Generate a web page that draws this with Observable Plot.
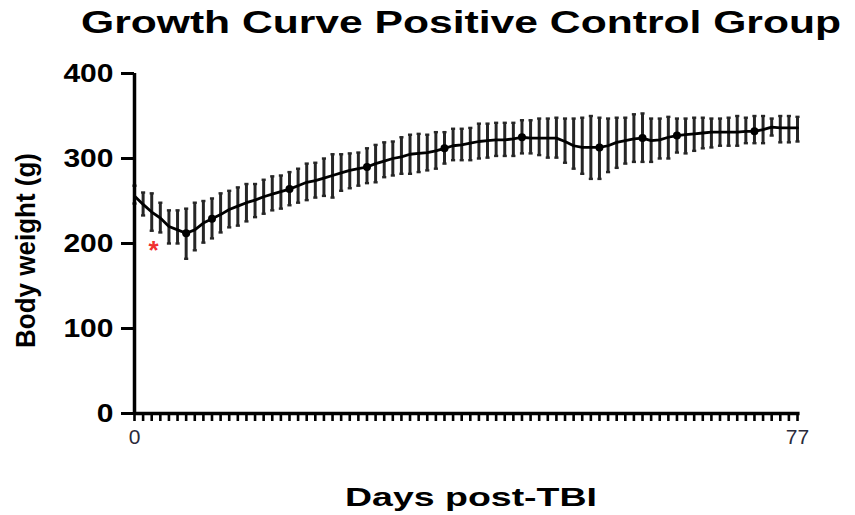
<!DOCTYPE html>
<html><head><meta charset="utf-8">
<script src="https://cdn.jsdelivr.net/npm/d3@7"></script>
<script src="https://cdn.jsdelivr.net/npm/@observablehq/plot@0.6"></script>
<style>body{margin:0;background:#fff;} svg{display:block}</style>
</head><body><div id="chart"></div>
<script>
const titleText = "Growth Curve Positive Control Group";
const xLabelText = "Days post-TBI";
const yLabelText = "Body weight (g)";
const days = [0,1,2,3,4,5,6,7,8,9,10,11,12,13,14,15,16,17,18,19,20,21,22,23,24,25,26,27,28,29,30,31,32,33,34,35,36,37,38,39,40,41,42,43,44,45,46,47,48,49,50,51,52,53,54,55,56,57,58,59,60,61,62,63,64,65,66,67,68,69,70,71,72,73,74,75,76,77];
const means = [256,246,237,230,220,216,212,216,224,229,234,240,244,248,251,255,258,261,264,268,272,274,277,280,283,286,288,290,294,297,300,302,305,306,307,309,312,315,316,318,320,321,322,322,323,325,324,324,324,324,320,315,313,313,313,315,319,321,323,324,321,322,325,327,328,329,330,331,331,331,331,332,332,334,337,336,336,336];
const lows  = [247,233,215,213,200,200,182,192,201,206,213,219,221,226,231,235,239,241,245,248,251,254,256,254,262,265,268,271,272,278,280,282,282,284,286,288,294,298,298,298,300,301,303,303,303,306,306,304,301,301,295,288,282,276,276,284,289,294,296,296,296,300,300,307,306,309,312,313,315,315,315,318,318,318,327,319,319,320];
const highs = [268,260,259,248,239,239,241,248,250,253,259,262,266,270,270,275,279,280,284,288,294,295,300,305,305,306,307,312,316,319,320,325,328,329,328,331,331,335,335,336,341,341,342,342,342,345,345,347,347,348,347,347,348,350,348,347,348,348,352,353,347,347,349,347,347,348,348,347,347,348,350,348,350,350,347,350,350,349];
const markerDays = [6,9,18,27,36,45,54,59,63,72];
const yTicks = [0,100,200,300,400];
const xTickLabels = {0:"0", 77:"77"};
const annotations = [{day:2.2, value:200, text:"*"}];

const rows = days.map((d,i)=>({day:d, mean:means[i], lo:lows[i], hi:highs[i]}));
const cap = 0.24;

const plot = Plot.plot({
  width: 855, height: 515,
  marginLeft: 134, marginRight: 58, marginTop: 73, marginBottom: 102,
  style: {fontFamily: "'Liberation Sans', Arial, sans-serif", background: "#fff", color: "#000"},
  x: {domain: [0,77]},
  y: {domain: [0,400]},
  marks: [
    Plot.ruleX(rows, {x:"day", y1:"lo", y2:"hi", stroke:"#262626", strokeWidth:3}),
    Plot.link(rows, {x1:d=>d.day-cap, x2:d=>d.day+cap, y1:"hi", y2:"hi", stroke:"#262626", strokeWidth:2.4}),
    Plot.link(rows, {x1:d=>d.day-cap, x2:d=>d.day+cap, y1:"lo", y2:"lo", stroke:"#262626", strokeWidth:2.4}),
    Plot.line(rows, {x:"day", y:"mean", stroke:"#000", strokeWidth:2.8}),
    Plot.dot(rows.filter(d=>markerDays.includes(d.day)), {x:"day", y:"mean", r:4, fill:"#000", stroke:"none"}),
    Plot.axisY({ticks: yTicks, tickSize: 13, tickPadding: 8, fontSize: 25, fontWeight: "bold", strokeWidth: 3, label: null}),
    Plot.axisX({ticks: days, tickSize: 8, tickPadding: 8, fontSize: 21, tickFormat: d => xTickLabels[d] ?? "", strokeWidth: 2.6, label: null, fill: "#2a2a3a"}),
    Plot.ruleX([0], {y1: 0, y2: 400, stroke:"#000", strokeWidth: 3.5}),
    Plot.ruleY([0], {x1: 0, x2: 77.3, stroke:"#000", strokeWidth: 3.5}),
    Plot.text(annotations, {x:"day", y:"value", text:"text", fill:"#f03030", fontSize: 26, fontWeight:"bold", dy: 7}),
    Plot.text([titleText], {frameAnchor:"top", lineAnchor:"middle", textAnchor:"middle", dy:-50, dx:-5, fontSize: 31, fontWeight:"bold", fill:"#000"}),
    Plot.text([xLabelText], {frameAnchor:"bottom", lineAnchor:"middle", textAnchor:"middle", dy:84, dx:5, fontSize: 25, fontWeight:"bold", fill:"#000"}),
    Plot.text([yLabelText], {frameAnchor:"left", lineAnchor:"middle", textAnchor:"middle", dx:-108, dy:7, rotate:-90, fontSize: 28, fontWeight:"bold", fill:"#000"})
  ]
});
document.getElementById("chart").appendChild(plot);

function stretchText(str, w) {
  plot.querySelectorAll("text").forEach(t => {
    if (t.textContent === str) {
      t.setAttribute("textLength", w);
      t.setAttribute("lengthAdjust", "spacingAndGlyphs");
    }
  });
}
stretchText(titleText, 760);
stretchText(xLabelText, 252);
stretchText(yLabelText, 195);
plot.querySelectorAll('g[aria-label="y-axis tick label"] text').forEach(t => {
  const L = t.getComputedTextLength();
  if (L > 0) { t.setAttribute("textLength", L * 1.2); t.setAttribute("lengthAdjust", "spacingAndGlyphs"); }
});
</script></body></html>
